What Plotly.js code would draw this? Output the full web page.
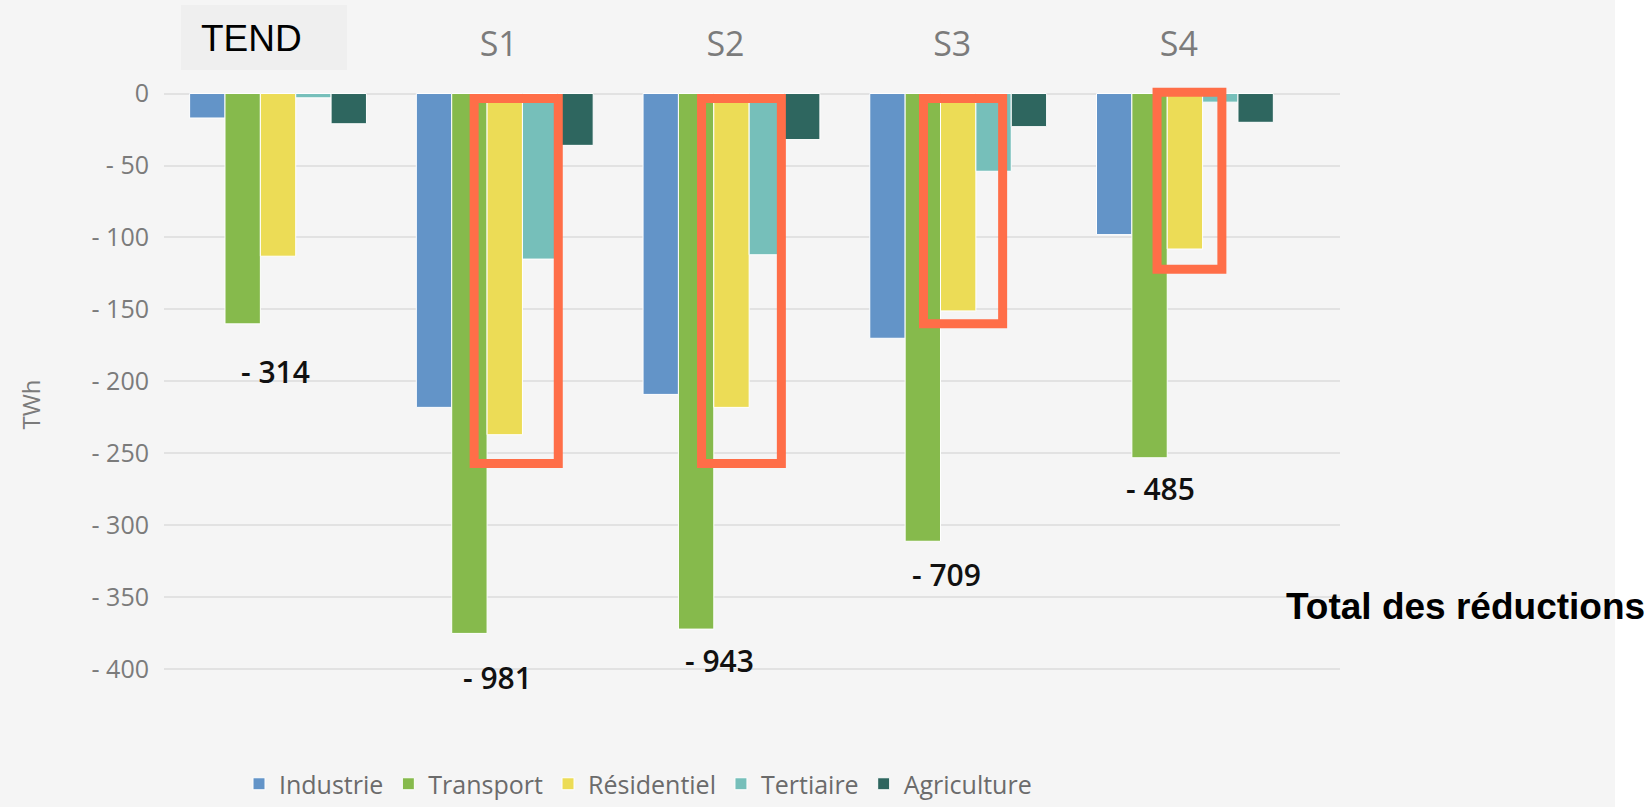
<!DOCTYPE html>
<html>
<head>
<meta charset="utf-8">
<script src="https://cdn.plot.ly/plotly-3.0.1.min.js"></script>
<style>
  html, body { margin: 0; padding: 0; background: #ffffff; }
  #chart { width: 1650px; height: 807px; }
</style>
</head>
<body>
<div id="chart"></div>
<script>
// Réductions de consommation d'énergie par secteur et par scénario (TWh)
const categories = ['TEND', 'S1', 'S2', 'S3', 'S4'];
const industrie = [-17, -218, -209, -170, -98];
const transport = [-160, -375, -372, -311, -253];
const residentiel = [-113, -237, -218, -151, -108];
const tertiaire = [-3, -115, -112, -54, -6];
const agriculture = [-21, -36, -32, -23, -20];

const seriesNames = ['Industrie', 'Transport', 'Résidentiel', 'Tertiaire', 'Agriculture'];
const yTickValues = [0, -50, -100, -150, -200, -250, -300, -350, -400];
const yTickLabels = ['0', '- 50', '- 100', '- 150', '- 200', '- 250', '- 300', '- 350', '- 400'];

const seriesValues = [industrie, transport, residentiel, tertiaire, agriculture];
const colors = ['#6394c8', '#86ba4c', '#ecdc56', '#76bfba', '#2e665f'];

// total per scenario, shown under each group
const totals = categories.map((_, i) => seriesValues.reduce((s, arr) => s + arr[i], 0));

// page geometry (px)
const W = 1650, H = 807;
const M = { l: 164, r: 310, t: 82, b: 80 };
const plotW = W - M.l - M.r, plotH = H - M.t - M.b;
const px = x => (x - M.l) / plotW;            // page x -> paper x
const py = y => (H - M.b - y) / plotH;        // page y -> paper y

const grayText = '#7b7b7b';
const sans = '"Open Sans", "DejaVu Sans", sans-serif';
const arial = '"Liberation Sans", Arial, sans-serif';

const traces = seriesValues.map((vals, k) => ({
  type: 'bar',
  name: seriesNames[k],
  x: categories,
  y: vals,
  marker: { color: colors[k], line: { color: '#ffffff', width: 1 } },
  hoverinfo: 'skip'
}));

// totals below each group
const labelNudge = [
  { dx: -3, dy: 48 }, { dx: -7, dy: 44 }, { dx: -12, dy: 31 },
  { dx: -12, dy: 33 }, { dx: -24, dy: 31 }
];
const annotations = categories.map((c, i) => {
  const low = Math.min(...seriesValues.map(arr => arr[i]));
  return {
    x: c, y: low, xref: 'x', yref: 'y',
    xanchor: 'center', yanchor: 'middle',
    text: '- ' + Math.abs(totals[i]),
    showarrow: false,
    xshift: labelNudge[i].dx, yshift: -labelNudge[i].dy,
    font: { family: sans, size: 30, color: '#111111', weight: 600 }
  };
});

// baseline scenario heading
annotations.push({
  xref: 'paper', yref: 'paper',
  x: px(251), y: py(38), xanchor: 'center', yanchor: 'middle',
  text: categories[0], showarrow: false,
  font: { family: arial, size: 37, color: '#000000' }
});

annotations.push({
  xref: 'paper', yref: 'paper',
  x: px(1284), y: py(606), xanchor: 'left', yanchor: 'middle',
  text: 'Total des réductions', showarrow: false,
  font: { family: arial, size: 37, color: '#000000', weight: 700 }
});

// highlighted residential reductions
const highlights = [
  { cat: 1, x0: -0.135, x1: 0.236, y0: -3.5, y1: -257 },
  { cat: 2, x0: -0.132, x1: 0.220, y0: -3.5, y1: -257 },
  { cat: 3, x0: -0.153, x1: 0.196, y0: -3.5, y1: -160 },
  { cat: 4, x0: -0.123, x1: 0.163, y0: 0.8, y1: -122 }
];
const shapes = [
  // white strip on the right edge
  { type: 'rect', xref: 'paper', yref: 'paper', x0: px(1615), x1: px(1660), y0: py(-10), y1: py(820),
    fillcolor: '#ffffff', line: { width: 0 }, layer: 'below' },
  // heading box
  { type: 'rect', xref: 'paper', yref: 'paper', x0: px(181), x1: px(347), y0: py(70), y1: py(5),
    fillcolor: '#efefef', line: { width: 0 }, layer: 'below' }
].concat(highlights.map(h => ({
  type: 'rect', xref: 'x', yref: 'y',
  x0: h.cat + h.x0, x1: h.cat + h.x1, y0: h.y0, y1: h.y1,
  line: { color: '#ff6e48', width: 9 }, fillcolor: 'rgba(0,0,0,0)', layer: 'above'
})));

const layout = {
  width: W, height: H,
  margin: M,
  paper_bgcolor: '#f5f5f5',
  plot_bgcolor: 'rgba(0,0,0,0)',
  barmode: 'group',
  bargap: 0.22,
  bargroupgap: 0,
  showlegend: true,
  legend: {
    orientation: 'h',
    xref: 'container', yref: 'container',
    x: 239 / W, xanchor: 'left',
    y: -0.008, yanchor: 'bottom',
    font: { family: sans, size: 25, color: '#6b6b6b' },
    itemwidth: 30,
    bgcolor: 'rgba(0,0,0,0)'
  },
  xaxis: {
    type: 'category',
    side: 'top',
    range: [-0.503, 4.684],
    tickvals: categories,
    ticktext: categories.map((c, i) => i === 0 ? '' : c),
    tickfont: { family: sans, size: 34, color: grayText },
    ticks: '',
    ticklabelstandoff: 18,
    ticklabelshift: -6,
    showgrid: false,
    showline: false,
    zeroline: false,
    automargin: false,
    fixedrange: true
  },
  yaxis: {
    range: [-440, 8],
    tickvals: yTickValues,
    ticktext: yTickLabels,
    tickfont: { family: sans, size: 25, color: grayText },
    ticks: '',
    ticklabelstandoff: 14,
    showgrid: true,
    gridcolor: '#e2e2e2',
    gridwidth: 2,
    zeroline: true,
    zerolinecolor: '#e2e2e2',
    zerolinewidth: 2,
    showline: false,
    automargin: false,
    title: { text: 'TWh', font: { family: sans, size: 24, color: grayText }, standoff: 44 },
    fixedrange: true
  },
  annotations: annotations,
  shapes: shapes,
  hovermode: false
};

Plotly.newPlot('chart', traces, layout, { displayModeBar: false, staticPlot: true });
</script>
</body>
</html>
